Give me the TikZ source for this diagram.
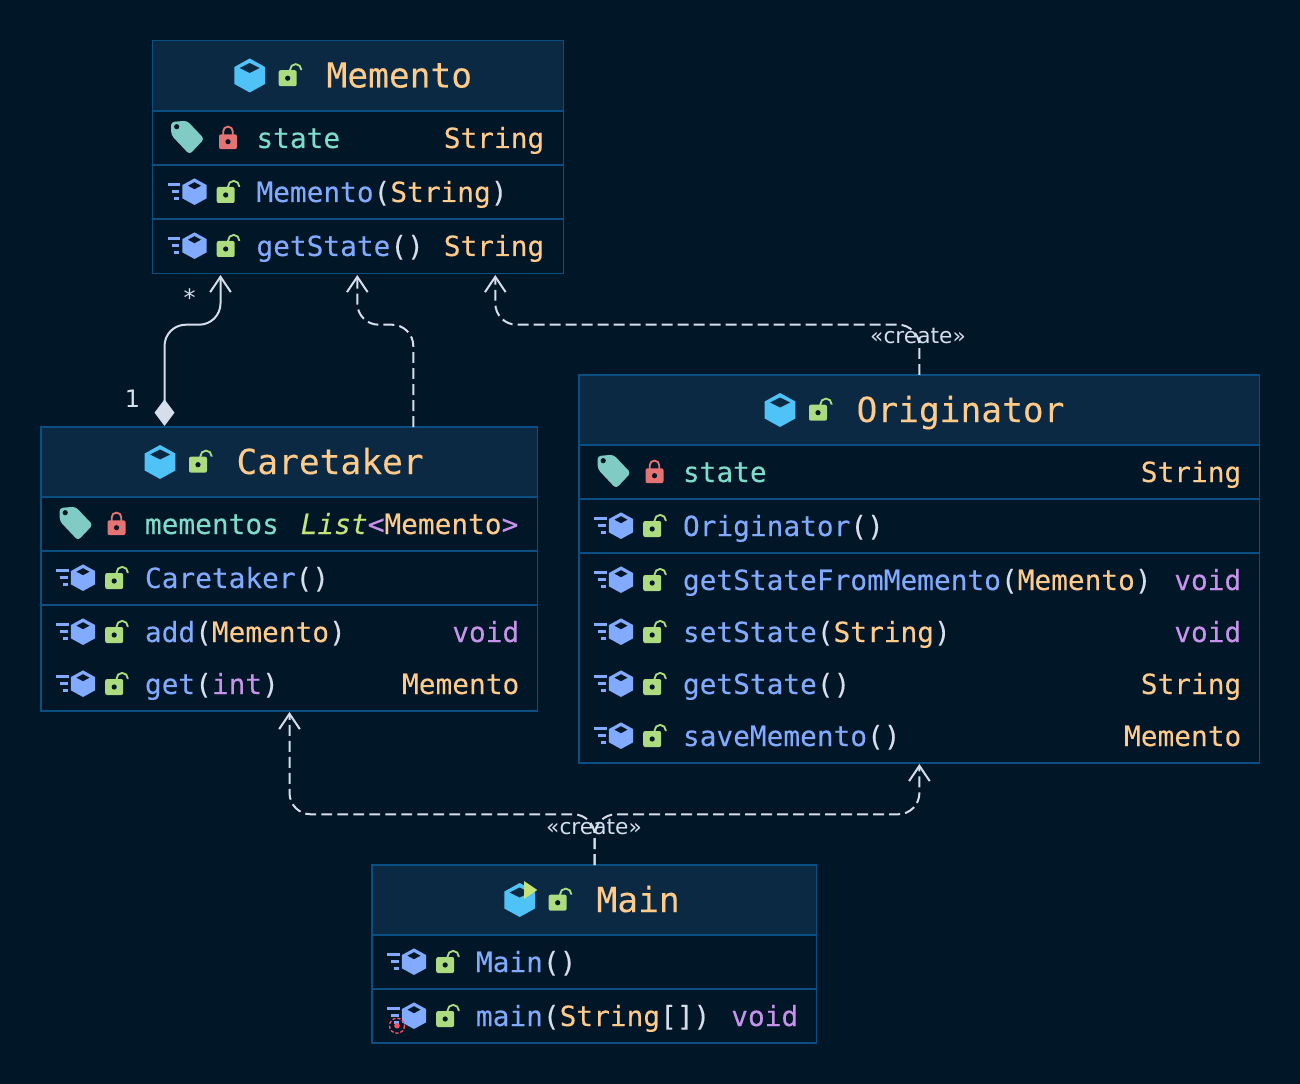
\documentclass[tikz,border=0pt]{standalone}
\usepackage{fontspec}
\setmainfont{DejaVu Sans}
\newfontfamily\codefont[FakeBold=0.15]{DejaVu Sans Mono}
\usetikzlibrary{arrows.meta,calc}
\definecolor{bgc}{HTML}{011627}
\definecolor{headc}{HTML}{0B2942}
\definecolor{borderc}{HTML}{0A4F83}
\definecolor{classc}{HTML}{FFCB8B}
\definecolor{attrc}{HTML}{7FDBCA}
\definecolor{methc}{HTML}{82AAFF}
\definecolor{voidc}{HTML}{C792EA}
\definecolor{parenc}{HTML}{D6DEEB}
\definecolor{listc}{HTML}{C5E478}
\definecolor{lockg}{HTML}{ADDB7F}
\definecolor{lockr}{HTML}{E57373}
\definecolor{tagc}{HTML}{80CBC4}
\definecolor{cubec}{HTML}{4FC3F7}
\definecolor{redc}{HTML}{FF4F6B}
\newcommand\tyy[1]{\textcolor{classc}{#1}}
\newcommand\pp[1]{\textcolor{parenc}{#1}}
\newcommand\mm[1]{\textcolor{methc}{#1}}
\newcommand\vv[1]{\textcolor{voidc}{#1}}
\tikzset{
  x=0.75pt,y=-0.75pt,
  box/.style={draw=borderc,line width=1.1pt,fill=bgc,inner sep=0pt,outer sep=0pt,anchor=north west},
  headbox/.style={draw=borderc,line width=1.1pt,fill=headc,inner sep=0pt,outer sep=0pt,anchor=north west},
  sepline/.style={draw=borderc,line width=1.1pt},
  titletext/.style={inner sep=0pt,anchor=base west,font=\codefont\fontsize{25.9pt}{30pt}\selectfont,text=classc},
  membertext/.style={inner sep=0pt,anchor=base west,font=\codefont\fontsize{20.85pt}{24pt}\selectfont},
  typetext/.style={inner sep=0pt,anchor=base east,font=\codefont\fontsize{20.85pt}{24pt}\selectfont},
  edgelabel/.style={inner sep=0pt,anchor=base,text=parenc,font=\fontsize{16.3pt}{20pt}\selectfont},
  multlabel/.style={inner sep=0pt,anchor=base,text=parenc,font=\fontsize{18pt}{22pt}\selectfont},
  conn/.style={draw=parenc,line width=1.5pt,rounded corners=16pt},
  dep/.style={conn,dash pattern=on 8.2pt off 3.8pt,-{Straight Barb[length=11.5pt,width=15.5pt,line width=1.5pt]}},
  aggr/.style={conn,{Diamond[length=20pt,width=15pt,fill=parenc]}-{Straight Barb[length=11.5pt,width=15.5pt,line width=1.5pt]}},
  openlock/.pic={
    \draw[lockg,line width=1.4pt] (2.4,-7) -- (2.4,-8.5) arc[start angle=180,end angle=0,x radius=5.6,y radius=-5.6] -- (13.6,-8);
    \fill[lockg,rounded corners=1.5pt] (-9,-8) rectangle (9,8);
    \fill[bgc] (0,0) circle[radius=2.6];
  },
  closedlock/.pic={
    \draw[lockr,line width=1.4pt] (-4.8,-6) -- (-4.8,-10.3) arc[start angle=180,end angle=0,x radius=4.8,y radius=-4.8] -- (4.8,-6);
    \fill[lockr,rounded corners=1.5pt] (-9,-7.4) rectangle (9,7.4);
    \fill[bgc] (0,0) circle[radius=2.6];
  },
  bigcube/.pic={
    \fill[cubec] (0,-17) -- (15.3,-8.5) -- (15.3,8.5) -- (0,17) -- (-15.3,8.5) -- (-15.3,-8.5) -- cycle;
    \fill[headc] (0,-12.5) -- (10,-7.5) -- (0,-2.5) -- (-10,-7.5) -- cycle;
  },
  methodcube/.pic={
    \fill[methc] (0,-13.3) -- (12.2,-6.6) -- (12.2,6.6) -- (0,13.3) -- (-12.2,6.6) -- (-12.2,-6.6) -- cycle;
    \fill[bgc] (0,-9.5) -- (6.5,-6) -- (0,-2.5) -- (-6.5,-6) -- cycle;
    \fill[methc] (-26.8,-8.7) rectangle (-14.5,-5.7);
    \fill[methc] (-22.8,-1.7) rectangle (-15.2,1.6);
    \fill[methc] (-20.2,5) rectangle (-15.2,8.3);
  },
  tagicon/.pic={
    \fill[tagc,rounded corners=2.5pt] (-16.5,-15.7) -- (-0.5,-17) -- (16.8,1.2) -- (2,16.8) -- (-16.2,-2.5) -- cycle;
    \fill[bgc] (-10.8,-11) circle[radius=2.6];
  },
}
% class box: name, left, top, width, height, header height
\newcommand\classbox[6]{%
  \node[box,minimum width=#4*0.75pt,minimum height=#5*0.75pt] (#1) at (#2,#3) {};
  \node[headbox,minimum width=#4*0.75pt,minimum height=#6*0.75pt] (#1Head) at (#2,#3) {};
}
% title: name, top of box, left of text, cube x, lock x
\newcommand\classtitle[5]{%
  \pic at (#4,#2+35) {bigcube};
  \pic at (#5,#2+37.7) {openlock};
  \node[titletext] (#1) at (#3,#2+47) {#1};
}
% separator: class, y offset from top, width
\newcommand\sepat[3]{\draw[sepline] ($(#1.north west)+(0,#2)$) -- ($(#1.north west)+(#3,#2)$);}
% method row: name, left, baseline, text
\newcommand\methodrow[4]{%
  \pic at (#2+42,#3-10.3) {methodcube};
  \pic at (#2+73.2,#3-7) {openlock};
  \node[membertext] (#1) at (#2+103.7,#3) {#4};
}
% field row: name, left, baseline, text
\newcommand\fieldrow[4]{%
  \pic at (#2+35,#3-10.3) {tagicon};
  \pic at (#2+75.5,#3-6.3) {closedlock};
  \node[membertext,text=attrc] (#1) at (#2+103.7,#3) {#4};
}
\begin{document}
\begin{tikzpicture}
\useasboundingbox (0,0) rectangle (1300,1084);
\fill[bgc] (0,0) rectangle (1300,1084);

% ---- Memento
\classbox{memento}{152.5}{40.5}{411}{233}{70.5}
\sepat{memento}{124.5}{411}
\sepat{memento}{178.5}{411}
\classtitle{Memento}{40.5}{326.3}{249.7}{287.7}
\fieldrow{mementoState}{152.5}{148}{state}
\node[typetext] (mementoStateT) at (544.5,148) {\tyy{String}};
\methodrow{mementoCtor}{152.5}{202}{\mm{Memento}\pp{(}\tyy{String}\pp{)}}
\methodrow{mementoGet}{152.5}{256}{\mm{getState}\pp{()}}
\node[typetext] (mementoGetT) at (544.5,256) {\tyy{String}};

% ---- Caretaker
\classbox{caretaker}{41}{427}{496.5}{284}{70}
\sepat{caretaker}{124}{496.5}
\sepat{caretaker}{178}{496.5}
\classtitle{Caretaker}{427}{236.3}{160}{198}
\fieldrow{careField}{41}{534}{mementos}
\node[membertext] (careFieldT) at (300.5,534) {\textcolor{listc}{\itshape List}\vv{<}\tyy{Memento}\vv{>}};
\methodrow{careCtor}{41}{588}{\mm{Caretaker}\pp{()}}
\methodrow{careAdd}{41}{642}{\mm{add}\pp{(}\tyy{Memento}\pp{)}}
\node[typetext] (careAddT) at (519.5,642) {\vv{void}};
\methodrow{careGet}{41}{694}{\mm{get}\pp{(}\vv{int}\pp{)}}
\node[typetext] (careGetT) at (519.5,694) {\tyy{Memento}};

% ---- Originator
\classbox{originator}{579}{375}{680.5}{388}{70}
\sepat{originator}{124}{680.5}
\sepat{originator}{178}{680.5}
\classtitle{Originator}{375}{856.3}{780}{818}
\fieldrow{origField}{579}{482}{state}
\node[typetext] (origFieldT) at (1241.5,482) {\tyy{String}};
\methodrow{origCtor}{579}{536}{\mm{Originator}\pp{()}}
\methodrow{origFrom}{579}{590}{\mm{getStateFromMemento}\pp{(}\tyy{Memento}\pp{)}}
\node[typetext] (origFromT) at (1241.5,590) {\vv{void}};
\methodrow{origSet}{579}{642}{\mm{setState}\pp{(}\tyy{String}\pp{)}}
\node[typetext] (origSetT) at (1241.5,642) {\vv{void}};
\methodrow{origGet}{579}{694}{\mm{getState}\pp{()}}
\node[typetext] (origGetT) at (1241.5,694) {\tyy{String}};
\methodrow{origSave}{579}{746}{\mm{saveMemento}\pp{()}}
\node[typetext] (origSaveT) at (1241.5,746) {\tyy{Memento}};

% ---- Main
\classbox{mainbox}{372}{865}{444.5}{178}{70}
\sepat{mainbox}{124}{444.5}
\classtitle{Main}{865}{596.3}{519.7}{557.7}
\fill[listc] (524,881) -- (537.3,890) -- (524,899) -- cycle;
\methodrow{mainCtor}{372}{972}{\mm{Main}\pp{()}}
\methodrow{mainMain}{372}{1026}{\mm{main}\pp{(}\tyy{String}\pp{[])}}
\node[typetext] (mainMainT) at (798.5,1026) {\vv{void}};
\draw[redc,line width=1pt,dash pattern=on 2.4pt off 1.4pt] (397,1025.7) circle[radius=7.5];
\fill[redc] (397,1025.7) circle[radius=2.8];

% ---- Connectors
\draw[aggr] ($(caretaker.north west)+(123.5,-1)$) -- ++(0,-101.3) -| ($(memento.south west)+(68,1.5)$);
\draw[dep] ($(caretaker.north west)+(372.3,0)$) -- ++(0,-102.3) -| ($(memento.south west)+(204.8,1.5)$);
\draw[dep] ($(originator.north west)+(340.4,0)$) -- ++(0,-50.3) -| ($(memento.south west)+(342.8,1.5)$);
\draw[dep] ($(mainbox.north west)+(222.7,0)$) -- ++(0,-50.7) -| ($(caretaker.south west)+(248.5,1)$);
\draw[dep] ($(mainbox.north west)+(222.7,0)$) -- ++(0,-50.7) -| ($(originator.south west)+(340.4,1)$);

% ---- Labels
\node[multlabel] (aggrMany) at (189.7,307) {*};
\node[multlabel] (aggrOne) at (132.5,407) {1};
\node[edgelabel] (createA) at (918,344) {«create»};
\node[edgelabel] (createB) at (594,834) {«create»};
\end{tikzpicture}
\end{document}
